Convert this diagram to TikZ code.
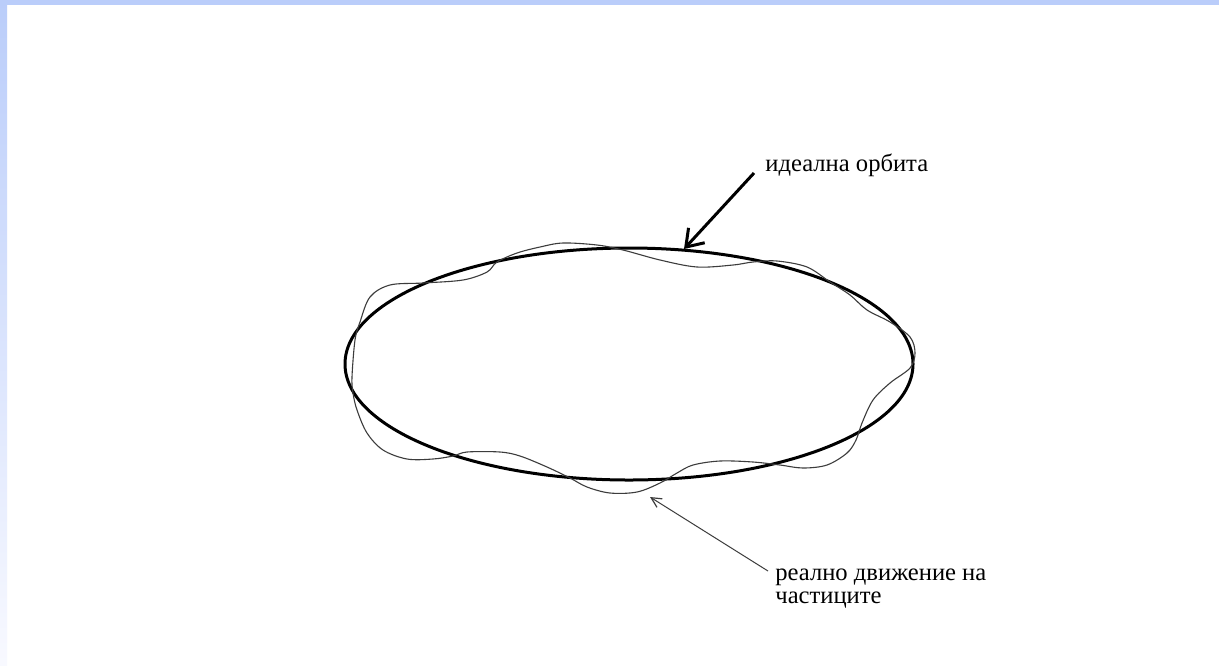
\documentclass[tikz,border=0pt]{standalone}
\usepackage{fontspec}
\setmainfont{Liberation Serif}
\usetikzlibrary{arrows.meta}
\definecolor{bandblue}{RGB}{186,205,250}
\definecolor{bandpale}{RGB}{248,249,255}
\definecolor{wavegray}{RGB}{60,60,60}
\tikzset{
  orbit/.style={line width=1.5pt, black},
  realpath/.style={line width=0.55pt, wavegray},
  label/.style={font=\fontsize{12.3}{11.2}\selectfont, inner sep=0pt, align=left},
  bigarrow/.style={line width=1.5pt, -{Straight Barb[length=8pt,width=11pt,line width=1.5pt]}},
  smallarrow/.style={line width=0.5pt, wavegray, -{Straight Barb[length=5pt,width=5pt,line width=0.6pt]}}
}
\begin{document}
\begin{tikzpicture}[x=0.5pt,y=-0.5pt]
\useasboundingbox (0,0) rectangle (1219,665);
\fill[white] (0,0) rectangle (1219,665);
% frame bands
\shade[top color=bandblue, bottom color=bandpale] (0,0) rectangle (7,665);
\fill[bandblue] (0,0) rectangle (1219,5);
% ideal orbit
\draw[orbit] (629,364) ellipse [x radius=284, y radius=116];
% real motion
\draw[realpath] plot[smooth cycle, tension=0.55] coordinates {
 (352,377) (355,340) (360,322) (370,297) (390,285) (423,283) (463,280)
 (487,272) (497,262) (517,253) (540,247) (563,243) (597,245) (623,250)
 (660,260) (697,267) (733,265) (753,262) (777,261) (807,267) (830,282)
 (850,295) (867,310) (890,322) (910,337) (915,353) (910,368) (890,383)
 (873,400) (862,423) (856,440) (847,453) (827,465) (803,468) (780,465)
 (753,462) (720,461) (693,465) (677,473) (660,483) (637,492) (610,493)
 (587,487) (570,478) (547,467) (520,456) (500,452) (467,452) (453,456)
 (433,459) (407,459) (383,450) (367,433) (357,410) (353,393)};
% labels
\node[label, anchor=base west] (ideal) at (765,171) {идеална орбита};
\node[label, anchor=base west] (real) at (775,603) {реално движение на\\[0pt]частиците};
% arrows
\coordinate (idealtail) at (754,173);
\coordinate (idealtip) at (684,249);
\coordinate (realtail) at (768,571);
\coordinate (realtip) at (650,497);
\draw[bigarrow] (idealtail) -- (idealtip);
\draw[smallarrow] (realtail) -- (realtip);
\end{tikzpicture}
\end{document}
